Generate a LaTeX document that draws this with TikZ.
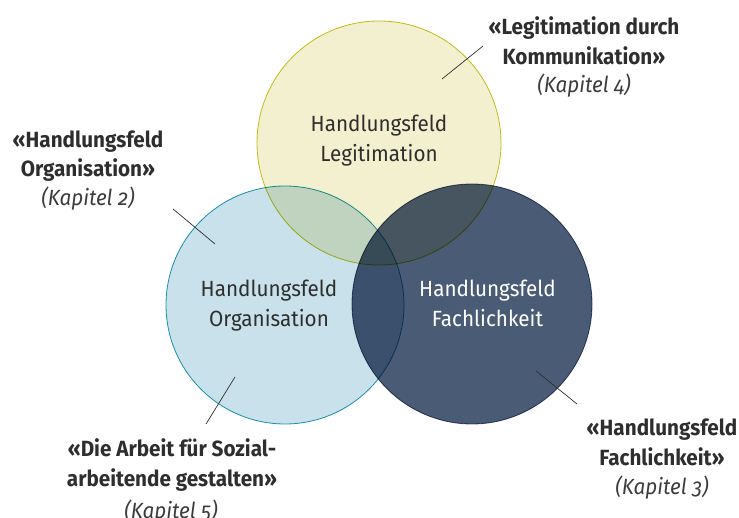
\documentclass[tikz,border=0pt]{standalone}
\usepackage{fontspec}
\setmainfont{Fira Sans}[Numbers=OldStyle, FakeStretch=0.94]
\definecolor{legfill}{HTML}{F3F0CF}
\definecolor{legline}{HTML}{C8C21C}
\definecolor{orgfill}{HTML}{C9E1EB}
\definecolor{orgline}{HTML}{1E9BB4}
\definecolor{fachfill}{HTML}{4A5B76}
\definecolor{txt}{HTML}{2E2E2E}
\definecolor{chaptxt}{HTML}{3C3C3C}
\begin{document}
\begin{tikzpicture}[x=1pt,y=-1pt,
  ring/.style={circle, inner sep=0pt, line width=0.8pt},
  inner/.style={align=center, inner sep=0pt, font=\fontsize{22}{30}\selectfont},
  title/.style={align=center, inner sep=0pt, font=\bfseries\fontsize{22}{29.5}\selectfont, text=txt},
  chapter/.style={inner sep=0pt, font=\itshape\fontsize{22}{24}\selectfont, text=chaptxt},
  pointer/.style={draw=txt, line width=0.7pt}]
\useasboundingbox (0,0) rectangle (739,518);

% the three overlapping fields, multiplied so the overlaps darken
\begin{scope}[blend mode=multiply]
  \node[ring, minimum size=238pt, fill=orgfill, draw=orgline] (org) at (285,305) {};
  \node[ring, minimum size=240pt, fill=fachfill, draw=fachfill] (fach) at (472,304) {};
  \node[ring, minimum size=244pt, fill=legfill, draw=legline] (leg) at (379,143) {};
\end{scope}

% field names inside the circles
\node[inner, text=txt] (legtext) at (379,141) {Handlungsfeld\\Legitimation};
\node[inner, text=txt] (orgtext) at (269,306) {Handlungsfeld\\Organisation};
\node[inner, text=white] (fachtext) at (487.5,303.5) {Handlungsfeld\\Fachlichkeit};

% chapter captions
\node[title] (legtitle) at (584,41) {«Legitimation durch\\Kommunikation»};
\node[chapter] (legchap) at (584,86) {(Kapitel 4)};

\node[title] (orgtitle) at (88,156) {«Handlungsfeld\\Organisation»};
\node[chapter] (orgchap) at (88,199) {(Kapitel 2)};

\node[title] (sozititle) at (172,465) {«Die Arbeit für Sozial-\\arbeitende gestalten»};
\node[chapter] (sozichap) at (171,512) {(Kapitel 5)};

\node[title] (fachtitle) at (662,442.5) {«Handlungsfeld\\Fachlichkeit»};
\node[chapter] (fachchap) at (662,488) {(Kapitel 3)};

% pointer strokes
\coordinate (p1a) at (442,79);  \coordinate (p1b) at (483,46);
\coordinate (p2a) at (173,209); \coordinate (p2b) at (215,244);
\coordinate (p3a) at (235,377); \coordinate (p3b) at (206,424);
\coordinate (p4a) at (536,371); \coordinate (p4b) at (577,404);
\draw[pointer] (p1a) -- (p1b);
\draw[pointer] (p2a) -- (p2b);
\draw[pointer] (p3a) -- (p3b);
\draw[pointer] (p4a) -- (p4b);
\end{tikzpicture}
\end{document}
